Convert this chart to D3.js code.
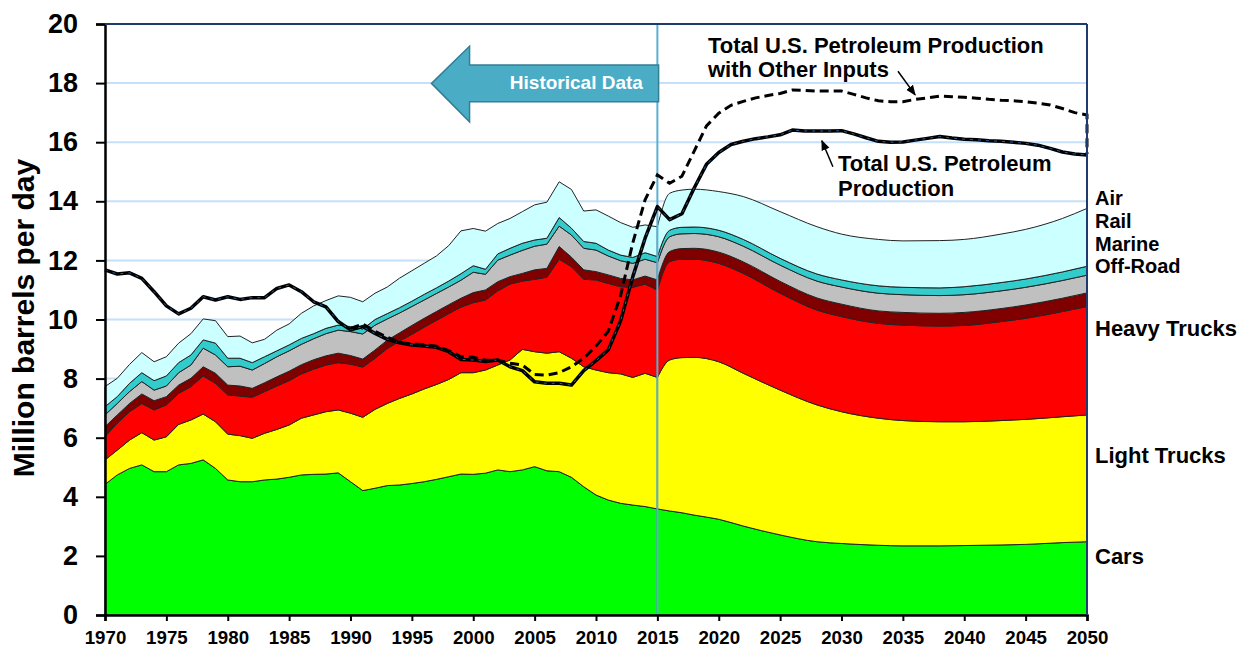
<!DOCTYPE html>
<html>
<head>
<meta charset="utf-8">
<script src="https://cdn.jsdelivr.net/npm/d3@7"></script>
<style>
	body { margin: 0; background: #fff; }
	text { font-family: "Liberation Sans", Arial, sans-serif; font-weight: bold; }
</style>
</head>
<body>
<script>
// layer order, bottom to top
const keys = ["cars", "lightTrucks", "heavyTrucks", "offRoad", "marine", "rail", "air"];
const layerNames = ["Cars", "Light Trucks", "Heavy Trucks", "Off-Road", "Marine", "Rail", "Air"];
const layerColors = ["#00ff00", "#ffff00", "#ff0000", "#800000", "#c0c0c0", "#33cccc", "#ccffff"];

// historical data, 1970 - 2015 (million barrels per day)
const histYears = d3.range(1970, 2016);
const histCars = [4.42, 4.74, 4.96, 5.08, 4.85, 4.85, 5.08, 5.13, 5.25, 4.96,
	4.57, 4.51, 4.51, 4.57, 4.60, 4.66, 4.74, 4.76, 4.77, 4.81,
	4.51, 4.21, 4.29, 4.38, 4.40, 4.45, 4.51, 4.59, 4.68, 4.77,
	4.76, 4.80, 4.91, 4.85, 4.91, 5.02, 4.88, 4.85, 4.66, 4.34,
	4.06, 3.89, 3.78, 3.72, 3.67, 3.59];
const histLightTrucks = [0.83, 0.84, 0.96, 1.09, 1.07, 1.18, 1.37, 1.47, 1.55, 1.58,
	1.55, 1.56, 1.47, 1.58, 1.68, 1.77, 1.92, 2.01, 2.11, 2.13,
	2.32, 2.48, 2.67, 2.78, 2.93, 3.03, 3.14, 3.21, 3.29, 3.43,
	3.44, 3.49, 3.55, 3.78, 4.08, 3.89, 3.98, 4.06, 4.03, 4.06,
	4.23, 4.31, 4.38, 4.32, 4.51, 4.45];
const histHeavyTrucks = [0.79, 0.91, 0.96, 0.99, 1.02, 1.08, 1.05, 1.13, 1.29, 1.30,
	1.33, 1.34, 1.39, 1.41, 1.47, 1.50, 1.50, 1.55, 1.58, 1.60,
	1.66, 1.70, 1.73, 1.86, 1.94, 2.02, 2.09, 2.17, 2.23, 2.22,
	2.37, 2.37, 2.51, 2.57, 2.31, 2.45, 2.57, 3.13, 3.10, 2.96,
	3.05, 3.02, 2.95, 3.05, 3.02, 2.96];
const histOffRoad = [0.33, 0.28, 0.28, 0.32, 0.31, 0.28, 0.28, 0.28, 0.31, 0.34,
	0.33, 0.34, 0.30, 0.30, 0.31, 0.32, 0.31, 0.32, 0.31, 0.32,
	0.29, 0.27, 0.28, 0.28, 0.28, 0.30, 0.30, 0.30, 0.30, 0.30,
	0.34, 0.34, 0.31, 0.25, 0.26, 0.32, 0.30, 0.43, 0.32, 0.32,
	0.28, 0.29, 0.28, 0.25, 0.27, 0.34];
const histMarine = [0.40, 0.39, 0.40, 0.42, 0.36, 0.36, 0.42, 0.45, 0.63, 0.62,
	0.62, 0.67, 0.62, 0.65, 0.68, 0.69, 0.69, 0.71, 0.75, 0.78,
	0.81, 0.85, 0.84, 0.72, 0.67, 0.64, 0.62, 0.61, 0.60, 0.61,
	0.69, 0.53, 0.73, 0.73, 0.78, 0.80, 0.82, 0.69, 0.75, 0.73,
	0.73, 0.64, 0.60, 0.56, 0.57, 0.58];
const histRail = [0.28, 0.23, 0.28, 0.30, 0.32, 0.34, 0.34, 0.34, 0.28, 0.40,
	0.29, 0.27, 0.25, 0.23, 0.20, 0.20, 0.20, 0.17, 0.18, 0.17,
	0.17, 0.17, 0.19, 0.18, 0.18, 0.18, 0.19, 0.19, 0.20, 0.22,
	0.22, 0.17, 0.21, 0.23, 0.24, 0.21, 0.20, 0.29, 0.23, 0.23,
	0.23, 0.20, 0.19, 0.20, 0.22, 0.21];
const histAir = [0.68, 0.62, 0.64, 0.68, 0.64, 0.65, 0.66, 0.72, 0.71, 0.76,
	0.73, 0.75, 0.67, 0.59, 0.70, 0.71, 0.85, 0.94, 0.94, 0.99,
	0.99, 0.92, 0.89, 0.90, 1.00, 1.03, 1.05, 1.08, 1.20, 1.45,
	1.26, 1.29, 1.03, 1.01, 1.07, 1.19, 1.22, 1.21, 1.31, 1.03,
	1.13, 1.15, 1.10, 1.02, 0.94, 1.01];

// projections, 2015 - 2050
const projYears = [2015, 2016, 2017, 2018, 2020, 2022, 2025, 2028, 2030, 2033, 2035, 2038, 2040, 2043, 2045, 2048, 2050];
const projCars = [3.59, 3.52, 3.46, 3.38, 3.24, 3.01, 2.71, 2.48, 2.42, 2.36, 2.34, 2.34, 2.35, 2.37, 2.39, 2.45, 2.48];
const projLightTrucks = [4.45, 5.11, 5.25, 5.34, 5.33, 5.17, 4.90, 4.63, 4.46, 4.30, 4.24, 4.20, 4.19, 4.21, 4.23, 4.26, 4.29];
const projHeavyTrucks = [2.96, 3.33, 3.33, 3.32, 3.33, 3.38, 3.28, 3.21, 3.22, 3.21, 3.23, 3.24, 3.26, 3.35, 3.42, 3.56, 3.67];
const projOffRoad = [0.34, 0.34, 0.36, 0.37, 0.38, 0.39, 0.40, 0.41, 0.42, 0.42, 0.43, 0.43, 0.44, 0.44, 0.45, 0.45, 0.46];
const projMarine = [0.58, 0.50, 0.50, 0.50, 0.52, 0.53, 0.55, 0.57, 0.58, 0.60, 0.60, 0.60, 0.60, 0.60, 0.60, 0.60, 0.60];
const projRail = [0.21, 0.22, 0.22, 0.22, 0.22, 0.23, 0.23, 0.24, 0.24, 0.25, 0.25, 0.26, 0.27, 0.28, 0.28, 0.29, 0.30];
const projAir = [1.01, 1.25, 1.26, 1.28, 1.31, 1.45, 1.58, 1.60, 1.55, 1.57, 1.57, 1.60, 1.60, 1.64, 1.68, 1.81, 1.96];

// production lines
const prodYears = d3.range(1970, 2051);
const prodTotal = [11.68, 11.54, 11.58, 11.39, 10.94, 10.46, 10.19, 10.38, 10.77, 10.66,
	10.77, 10.68, 10.74, 10.74, 11.05, 11.17, 10.94, 10.60, 10.43, 9.93,
	9.65, 9.76, 9.53, 9.33, 9.21, 9.14, 9.10, 9.06, 8.91, 8.65,
	8.63, 8.58, 8.63, 8.40, 8.27, 7.89, 7.84, 7.84, 7.78, 8.27,
	8.61, 8.97, 9.95, 11.45, 12.75, 13.82, 13.38, 13.58, 14.45, 15.25,
	15.65, 15.92, 16.03, 16.12, 16.18, 16.25, 16.41, 16.38, 16.38, 16.38,
	16.39, 16.28, 16.15, 16.03, 16.00, 16.01, 16.07, 16.13, 16.19, 16.14,
	16.10, 16.08, 16.05, 16.03, 16.00, 15.96, 15.90, 15.79, 15.67, 15.60, 15.57];
const otherYears = d3.range(1990, 2051).concat([2050]);
const prodOther = [9.70, 9.85, 9.60, 9.40, 9.22, 9.17, 9.15, 9.10, 8.95, 8.74,
	8.72, 8.62, 8.62, 8.52, 8.46, 8.14, 8.12, 8.20, 8.40, 8.69,
	9.10, 9.60, 10.80, 12.60, 14.05, 14.89, 14.61, 14.85, 15.70, 16.55,
	16.98, 17.25, 17.38, 17.50, 17.58, 17.65, 17.77, 17.75, 17.73, 17.73,
	17.73, 17.62, 17.50, 17.40, 17.37, 17.37, 17.45, 17.50, 17.56, 17.54,
	17.52, 17.49, 17.45, 17.42, 17.40, 17.37, 17.32, 17.26, 17.14, 17.00, 16.92,
	15.60];

const yTicks = [0, 2, 4, 6, 8, 10, 12, 14, 16, 18, 20];
const xTicks = [1970, 1975, 1980, 1985, 1990, 1995, 2000, 2005, 2010, 2015, 2020, 2025, 2030, 2035, 2040, 2045, 2050];

// build tables for the stack
const histTable = histYears.map((yr, i) => ({
	year: yr, cars: histCars[i], lightTrucks: histLightTrucks[i], heavyTrucks: histHeavyTrucks[i],
	offRoad: histOffRoad[i], marine: histMarine[i], rail: histRail[i], air: histAir[i]
}));
const projTable = projYears.map((yr, i) => ({
	year: yr, cars: projCars[i], lightTrucks: projLightTrucks[i], heavyTrucks: projHeavyTrucks[i],
	offRoad: projOffRoad[i], marine: projMarine[i], rail: projRail[i], air: projAir[i]
}));

const w = 1248, h = 647,
	  plotLeft = 105, plotRight = 1087, plotTop = 24, plotBottom = 615,
	  xScale = d3.scaleLinear().domain([1970, 2050]).range([plotLeft, plotRight]),
	  yScale = d3.scaleLinear().domain([0, 20]).range([plotBottom, plotTop]),
	  svg = d3.select("body").append("svg").attr("width", w).attr("height", h);

// gridlines
svg.append("g")
   .selectAll("line")
   .data(yTicks.filter(d => d > 0 && d < 20))
   .enter()
   .append("line")
   .attr("x1", plotLeft).attr("x2", plotRight)
   .attr("y1", d => yScale(d)).attr("y2", d => yScale(d))
   .attr("stroke", "#c4e0fa")
   .attr("stroke-width", 2);

// stacked areas
const stack = d3.stack().keys(keys);

const drawStack = (table, curve) => {
	const area = d3.area()
		.x(d => xScale(d.data.year))
		.y0(d => yScale(d[0]))
		.y1(d => yScale(d[1]))
		.curve(curve);
	svg.append("g")
	   .selectAll("path")
	   .data(stack(table))
	   .enter()
	   .append("path")
	   .attr("d", area)
	   .attr("fill", (d, i) => layerColors[i])
	   .attr("stroke", "#222")
	   .attr("stroke-width", 1)
	   .attr("stroke-linejoin", "round");
};
drawStack(histTable, d3.curveLinear);
drawStack(projTable, d3.curveMonotoneX);

// 2015 divider
svg.append("line")
   .attr("x1", xScale(2015)).attr("x2", xScale(2015))
   .attr("y1", plotTop).attr("y2", plotBottom)
   .attr("stroke", "#5ab0d2")
   .attr("stroke-width", 2);

// production lines
const totalLine = d3.line()
	.x((d, i) => xScale(prodYears[i]))
	.y(d => yScale(d));
svg.append("path")
   .attr("d", totalLine(prodTotal))
   .attr("fill", "none")
   .attr("stroke", "#000")
   .attr("stroke-width", 3.5)
   .attr("stroke-linejoin", "round");
svg.append("path")
   .attr("d", totalLine(prodTotal))
   .attr("fill", "none")
   .attr("stroke", "#2a5d9c")
   .attr("stroke-width", 1)
   .attr("stroke-dasharray", "3,5");

const otherLine = d3.line()
	.x((d, i) => xScale(otherYears[i]))
	.y(d => yScale(d));
svg.append("path")
   .attr("d", otherLine(prodOther))
   .attr("fill", "none")
   .attr("stroke", "#000")
   .attr("stroke-width", 3)
   .attr("stroke-dasharray", "9,5");

// axes
const yAxis = d3.axisLeft(yScale).tickValues(yTicks).tickSize(9).tickPadding(18);
const gy = svg.append("g")
   .attr("transform", "translate(" + plotLeft + ", 0)")
   .call(yAxis);
gy.selectAll("text").style("font-size", "27px").attr("fill", "#000");

const xAxis = d3.axisBottom(xScale).tickValues(xTicks).tickFormat(d3.format("d")).tickSize(6).tickPadding(10);
const gx = svg.append("g")
   .attr("transform", "translate(0, " + plotBottom + ")")
   .call(xAxis);
gx.selectAll("text").style("font-size", "18.7px").attr("fill", "#000");

[gx, gy].forEach(g => {
	g.select(".domain").attr("stroke", "#000").attr("stroke-width", 2.5);
	g.selectAll(".tick line").attr("stroke", "#000").attr("stroke-width", 2);
});

// top and right frame
svg.append("line")
   .attr("x1", plotLeft).attr("x2", plotRight).attr("y1", plotTop).attr("y2", plotTop)
   .attr("stroke", "#1f3a6e").attr("stroke-width", 2);
svg.append("line")
   .attr("x1", plotRight).attr("x2", plotRight).attr("y1", plotTop).attr("y2", plotBottom)
   .attr("stroke", "#1f3a6e").attr("stroke-width", 2);

// y axis title
svg.append("text")
   .text("Million barrels per day")
   .attr("transform", "translate(34, 318) rotate(-90)")
   .attr("text-anchor", "middle")
   .style("font-size", "30px");

// right side legend labels
const legendLabels = [
	{ text: "Air", y: 205, size: 20 },
	{ text: "Rail", y: 228, size: 20 },
	{ text: "Marine", y: 251, size: 20 },
	{ text: "Off-Road", y: 273, size: 20 },
	{ text: "Heavy Trucks", y: 336, size: 22 },
	{ text: "Light Trucks", y: 463, size: 22 },
	{ text: "Cars", y: 564, size: 22 }
];
svg.selectAll("text.legendLabel")
   .data(legendLabels)
   .enter()
   .append("text")
   .attr("class", "legendLabel")
   .attr("x", 1095)
   .attr("y", d => d.y)
   .text(d => d.text)
   .style("font-size", d => d.size + "px");

// historical data arrow
const ax = v => xScale(v), ay = v => yScale(v);
const arrowPts = [
	[ax(1996.6), ay(17.99)],
	[ax(1999.7), ay(19.25)],
	[ax(1999.7), ay(18.61)],
	[ax(2015.1), ay(18.61)],
	[ax(2015.1), ay(17.37)],
	[ax(1999.7), ay(17.37)],
	[ax(1999.7), ay(16.69)]
];
svg.append("path")
   .attr("d", d3.line()(arrowPts) + "Z")
   .attr("fill", "#4bacc6")
   .attr("stroke", "#357f95")
   .attr("stroke-width", 1.5);
svg.append("text")
   .text("Historical Data")
   .attr("x", ax(2008.4))
   .attr("y", ay(17.99) + 6)
   .attr("text-anchor", "middle")
   .attr("fill", "#fff")
   .style("font-size", "19px");

// annotations
svg.append("defs")
   .append("marker")
   .attr("id", "head")
   .attr("viewBox", "0 0 10 10")
   .attr("refX", 9).attr("refY", 5)
   .attr("markerWidth", 7).attr("markerHeight", 7)
   .attr("orient", "auto")
   .append("path")
   .attr("d", "M0,1 L10,5 L0,9 z")
   .attr("fill", "#000");

const note1 = svg.append("text").attr("x", 708).attr("y", 53).style("font-size", "22px");
note1.append("tspan").text("Total U.S. Petroleum Production");
note1.append("tspan").attr("x", 708).attr("dy", 24).text("with Other Inputs");

const note2 = svg.append("text").attr("x", 838).attr("y", 171).style("font-size", "22px");
note2.append("tspan").text("Total U.S. Petroleum");
note2.append("tspan").attr("x", 838).attr("dy", 25).text("Production");

svg.append("line")
   .attr("x1", ax(2034.6)).attr("y1", ay(18.4))
   .attr("x2", ax(2036.0)).attr("y2", ay(17.6))
   .attr("stroke", "#000").attr("stroke-width", 1.5)
   .attr("marker-end", "url(#head)");
svg.append("line")
   .attr("x1", ax(2029.3)).attr("y1", ay(15.17))
   .attr("x2", ax(2028.4)).attr("y2", ay(16.05))
   .attr("stroke", "#000").attr("stroke-width", 1.5)
   .attr("marker-end", "url(#head)");
</script>
</body>
</html>
